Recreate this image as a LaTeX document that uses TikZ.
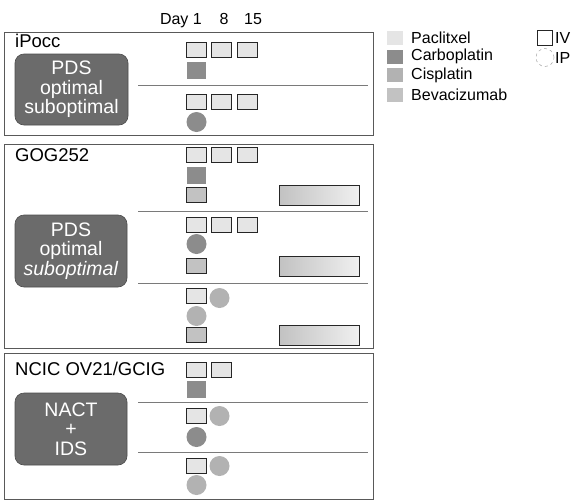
\documentclass[tikz,border=0pt]{standalone}
\usepackage{fontspec}
\setmainfont{Liberation Sans}
\usepackage{tikz}
\usetikzlibrary{positioning}
\definecolor{pacliGray}{gray}{0.9}
\definecolor{carboGray}{gray}{0.55}
\definecolor{cisGray}{gray}{0.7}
\definecolor{bevaGray}{gray}{0.76}
\definecolor{armGray}{gray}{0.42}
\definecolor{frameGray}{gray}{0.35}

\tikzset{
  trial/.style={draw=frameGray, line width=0.8pt},
  divider/.style={draw=frameGray!80, line width=0.8pt},
  title/.style={anchor=west, inner sep=0pt, font=\fontsize{18.5}{20}\selectfont},
  legtext/.style={anchor=west, inner sep=0pt, font=\fontsize{16}{18}\selectfont},
  armbox/.style={fill=armGray, draw=black!70, line width=0.6pt, rounded corners=9pt,
    text=white, align=center, font=\fontsize{19.5}{19.5}\selectfont},
  ivbox/.style={draw=black!85, line width=1pt, minimum width=20pt, minimum height=15pt, inner sep=0pt},
  ipdot/.style={circle, minimum size=20pt, inner sep=0pt},
  pacli/.style={ivbox, fill=pacliGray},
  beva/.style={ivbox, fill=bevaGray},
  carbo/.style={fill=carboGray, minimum width=19pt, minimum height=17pt, inner sep=0pt},
  carboip/.style={ipdot, fill=carboGray},
  cisip/.style={ipdot, fill=cisGray},
  bevabar/.style={draw=black!85, line width=1pt, minimum width=80pt, minimum height=20pt,
    inner sep=0pt, left color=gray!48, right color=gray!12},
  swatch/.style={minimum width=16pt, minimum height=14pt, inner sep=0pt}
}

\begin{document}
\begin{tikzpicture}[x=1pt, y=-1pt]
  \useasboundingbox (0,0) rectangle (575,501);
  % day header
  \node[anchor=base east, inner sep=0pt, font=\fontsize{16}{18}\selectfont] (day1) at (202,24) {Day 1};
  \node[anchor=base, inner sep=0pt, font=\fontsize{16}{18}\selectfont] (day8) at (224,24) {8};
  \node[anchor=base, inner sep=0pt, font=\fontsize{16}{18}\selectfont] (day15) at (253,24) {15};

  % legend
  \foreach \k/\c/\t/\y in {1/pacliGray/Paclitxel/37.5, 2/carboGray/Carboplatin/56.5,
                           3/cisGray/Cisplatin/75, 4/bevaGray/Bevacizumab/94.5} {
    \node[swatch, fill=\c] (sw\k) at (395,\y) {};
    \node[legtext] (lt\k) at (411,\y) {\t};
  }
  \node[draw=black!85, line width=0.8pt, minimum size=15pt, inner sep=0pt] (ivkey) at (544.5,37.5) {};
  \node[legtext] (ivtext) at (555,37.5) {IV};
  \node[circle, draw=gray!70, dashed, line width=0.5pt, minimum size=18pt, inner sep=0pt] (ipkey) at (545,57.5) {};
  \node[legtext] (iptext) at (555,57.5) {IP};

  % iPocc
  \draw[trial] (4,32) rectangle (373,135);
  \node[title] (ipocc) at (15,41) {iPocc};
  \node[armbox, minimum width=113pt, minimum height=71pt] (arm1) at (71.5,89.5) {PDS\\optimal\\suboptimal};
  \foreach \i/\x in {1/196.5,2/221.5,3/247} \node[pacli] (ia\i) at (\x,50) {};
  \node[carbo] (ia4) at (196.5,70) {};
  \draw[divider] (138,85) -- (368,85);
  \foreach \i/\x in {1/196.5,2/221.5,3/247} \node[pacli] (ib\i) at (\x,102) {};
  \node[carboip] (ib4) at (196.5,122) {};

  % GOG252
  \draw[trial] (4,144) rectangle (373,348);
  \node[title] (gog) at (15,155) {GOG252};
  \node[armbox, minimum width=112pt, minimum height=72pt] (arm2) at (71,251) {PDS\\optimal\\\textit{suboptimal}};
  \foreach \i/\x in {1/196.5,2/221.5,3/247} \node[pacli] (ga\i) at (\x,155) {};
  \node[carbo] (ga4) at (196.5,175) {};
  \node[beva] (ga5) at (196.5,195) {};
  \node[bevabar] (ga6) at (319,195) {};
  \draw[divider] (138,211) -- (368,211);
  \foreach \i/\x in {1/196.5,2/221.5,3/247} \node[pacli] (gb\i) at (\x,225) {};
  \node[carboip] (gb4) at (196.5,244) {};
  \node[beva] (gb5) at (196.5,266) {};
  \node[bevabar] (gb6) at (319,266) {};
  \draw[divider] (138,283) -- (368,283);
  \node[pacli] (gc1) at (196.5,296) {};
  \node[cisip] (gc2) at (219.5,298) {};
  \node[cisip] (gc3) at (196.5,316) {};
  \node[beva] (gc4) at (196.5,335) {};
  \node[bevabar] (gc5) at (319,335) {};

  % NCIC OV21/GCIG
  \draw[trial] (4,353) rectangle (373,499);
  \node[title] (ncic) at (15,369) {NCIC OV21/GCIG};
  \node[armbox, minimum width=112pt, minimum height=72pt] (arm3) at (71,429) {NACT\\+\\IDS};
  \foreach \i/\x in {1/196.5,2/221.5} \node[pacli] (na\i) at (\x,370) {};
  \node[carbo] (na3) at (196.5,389) {};
  \draw[divider] (138,402) -- (368,402);
  \node[pacli] (nb1) at (196.5,416) {};
  \node[cisip] (nb2) at (219.5,416) {};
  \node[carboip] (nb3) at (196.5,437) {};
  \draw[divider] (138,452) -- (368,452);
  \node[pacli] (nc1) at (196.5,466) {};
  \node[cisip] (nc2) at (219.5,466) {};
  \node[cisip] (nc3) at (196.5,485) {};
\end{tikzpicture}
\end{document}
